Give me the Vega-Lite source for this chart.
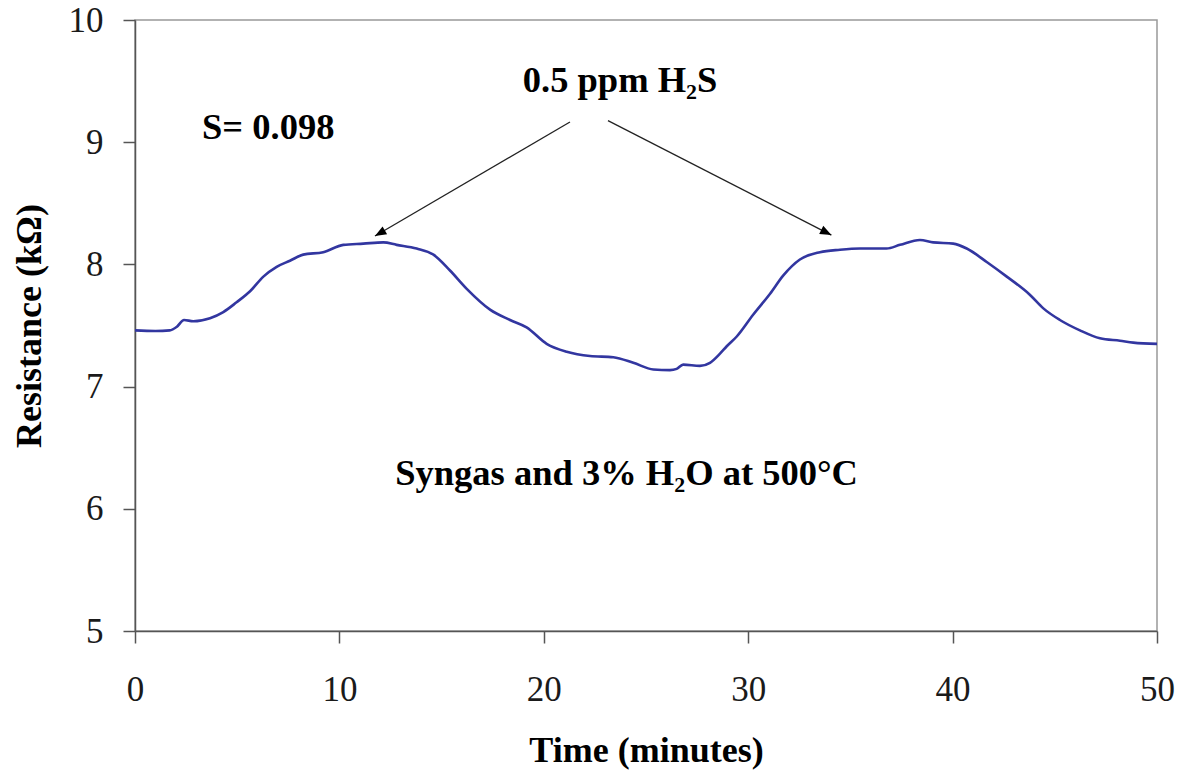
{
  "$schema": "https://vega.github.io/schema/vega-lite/v6.json",
  "width": 1022,
  "height": 611,
  "autosize": {"type": "none"},
  "padding": {"left": 135, "top": 20, "right": 22, "bottom": 139},
  "background": "white",
  "config": {
    "view": {"stroke": "#999999", "strokeWidth": 1.5},
    "font": "Liberation Serif"
  },
  "datasets": {
    "curve": [
      {"t": 0, "R": 7.46}, {"t": 1.0, "R": 7.455}, {"t": 1.7, "R": 7.46}, {"t": 2.05, "R": 7.49}, {"t": 2.4, "R": 7.545},
      {"t": 2.85, "R": 7.535}, {"t": 3.67, "R": 7.56}, {"t": 4.32, "R": 7.61}, {"t": 4.97, "R": 7.69},
      {"t": 5.63, "R": 7.78}, {"t": 6.28, "R": 7.9}, {"t": 6.93, "R": 7.98}, {"t": 7.58, "R": 8.03},
      {"t": 8.23, "R": 8.08}, {"t": 9.21, "R": 8.1}, {"t": 10.19, "R": 8.16}, {"t": 11.17, "R": 8.17},
      {"t": 12.15, "R": 8.18}, {"t": 12.8, "R": 8.16}, {"t": 13.78, "R": 8.13}, {"t": 14.6, "R": 8.08},
      {"t": 15.41, "R": 7.95}, {"t": 16.23, "R": 7.8}, {"t": 17.37, "R": 7.63}, {"t": 18.35, "R": 7.545},
      {"t": 19.16, "R": 7.485}, {"t": 20.14, "R": 7.35}, {"t": 21.12, "R": 7.285}, {"t": 22.26, "R": 7.25},
      {"t": 23.4, "R": 7.24}, {"t": 24.38, "R": 7.195}, {"t": 25.36, "R": 7.14}, {"t": 26.17, "R": 7.135},
      {"t": 26.5, "R": 7.145}, {"t": 26.82, "R": 7.18}, {"t": 27.64, "R": 7.17}, {"t": 28.13, "R": 7.195},
      {"t": 28.62, "R": 7.27}, {"t": 28.95, "R": 7.33}, {"t": 29.44, "R": 7.41}, {"t": 30.25, "R": 7.59},
      {"t": 31.07, "R": 7.76}, {"t": 31.72, "R": 7.91}, {"t": 32.53, "R": 8.04}, {"t": 33.51, "R": 8.1},
      {"t": 34.49, "R": 8.12}, {"t": 35.47, "R": 8.13}, {"t": 36.77, "R": 8.13}, {"t": 37.43, "R": 8.16},
      {"t": 38.4, "R": 8.2}, {"t": 39.05, "R": 8.18}, {"t": 40.03, "R": 8.17}, {"t": 40.69, "R": 8.13},
      {"t": 41.67, "R": 8.02}, {"t": 42.65, "R": 7.9}, {"t": 43.79, "R": 7.75}, {"t": 44.44, "R": 7.64},
      {"t": 45.25, "R": 7.545}, {"t": 46.23, "R": 7.46}, {"t": 47.21, "R": 7.395}, {"t": 48.19, "R": 7.375},
      {"t": 48.84, "R": 7.36}, {"t": 50, "R": 7.35}
    ],
    "arrows": [
      {"id": "left", "x1": 21.28, "y1": 9.165, "x2": 11.74, "y2": 8.232},
      {"id": "right", "x1": 23.14, "y1": 9.176, "x2": 34.07, "y2": 8.24}
    ],
    "labels": [
      {"id": "h2s", "x": 23.73, "y": 9.41, "label": "0.5 ppm H₂S"},
      {"id": "s", "x": 3.28, "y": 9.026, "label": "S= 0.098"},
      {"id": "cond", "x": 24.05, "y": 6.195, "label": "Syngas and 3% H₂O at 500°C"}
    ]
  },
  "layer": [
    {
      "data": {"name": "curve"},
      "mark": {"type": "line", "color": "#3236a0", "strokeWidth": 2.6, "clip": true, "interpolate": "monotone"},
      "encoding": {
        "x": {
          "field": "t", "type": "quantitative",
          "scale": {"domain": [0, 50], "nice": false},
          "axis": {
            "values": [0, 10, 20, 30, 40, 50], "grid": false, "format": "d", "labelFlush": false,
            "tickSize": 12, "tickColor": "#555555", "tickWidth": 1.5,
            "domainColor": "#555555", "domainWidth": 1.5,
            "labelFontSize": 35, "labelColor": "#1a1a1a", "labelPadding": 29,
            "labelFont": "Liberation Serif",
            "title": "Time (minutes)", "titleFontSize": 36, "titleFontWeight": "bold",
            "titleFont": "Liberation Serif", "titleColor": "black", "titlePadding": 26
          }
        },
        "y": {
          "field": "R", "type": "quantitative",
          "scale": {"domain": [5, 10], "nice": false},
          "axis": {
            "values": [5, 6, 7, 8, 9, 10], "grid": false, "format": "d", "labelFlush": false,
            "tickSize": 12, "tickColor": "#555555", "tickWidth": 1.5,
            "domainColor": "#555555", "domainWidth": 1.5,
            "labelFontSize": 35, "labelColor": "#1a1a1a", "labelPadding": 20,
            "labelFont": "Liberation Serif",
            "title": "Resistance (kΩ)", "titleFontSize": 36, "titleFontWeight": "bold",
            "titleFont": "Liberation Serif", "titleColor": "black", "titlePadding": 20
          }
        }
      }
    },
    {
      "data": {"name": "arrows"},
      "mark": {"type": "rule", "color": "#222222", "strokeWidth": 1.3},
      "encoding": {
        "x": {"field": "x1", "type": "quantitative"},
        "y": {"field": "y1", "type": "quantitative"},
        "x2": {"field": "x2"},
        "y2": {"field": "y2"}
      }
    },
    {
      "data": {"name": "arrows"},
      "transform": [{"filter": "datum.id == 'left'"}],
      "mark": {"type": "point", "shape": "M0,0L-0.8,2L0.8,2Z", "size": 130, "filled": true, "color": "black", "opacity": 1, "angle": 240},
      "encoding": {
        "x": {"field": "x2", "type": "quantitative"},
        "y": {"field": "y2", "type": "quantitative"}
      }
    },
    {
      "data": {"name": "arrows"},
      "transform": [{"filter": "datum.id == 'right'"}],
      "mark": {"type": "point", "shape": "M0,0L-0.8,2L0.8,2Z", "size": 130, "filled": true, "color": "black", "opacity": 1, "angle": 117},
      "encoding": {
        "x": {"field": "x2", "type": "quantitative"},
        "y": {"field": "y2", "type": "quantitative"}
      }
    },
    {
      "data": {"name": "labels"},
      "transform": [{"filter": "datum.id != 's'"}],
      "mark": {"type": "text", "fontSize": 36.5, "fontWeight": "bold", "font": "Liberation Serif", "align": "center", "baseline": "alphabetic", "color": "black"},
      "encoding": {
        "x": {"field": "x", "type": "quantitative"},
        "y": {"field": "y", "type": "quantitative"},
        "text": {"field": "label"}
      }
    },
    {
      "data": {"name": "labels"},
      "transform": [{"filter": "datum.id == 's'"}],
      "mark": {"type": "text", "fontSize": 36.5, "fontWeight": "bold", "font": "Liberation Serif", "align": "left", "baseline": "alphabetic", "color": "black"},
      "encoding": {
        "x": {"field": "x", "type": "quantitative"},
        "y": {"field": "y", "type": "quantitative"},
        "text": {"field": "label"}
      }
    }
  ]
}
